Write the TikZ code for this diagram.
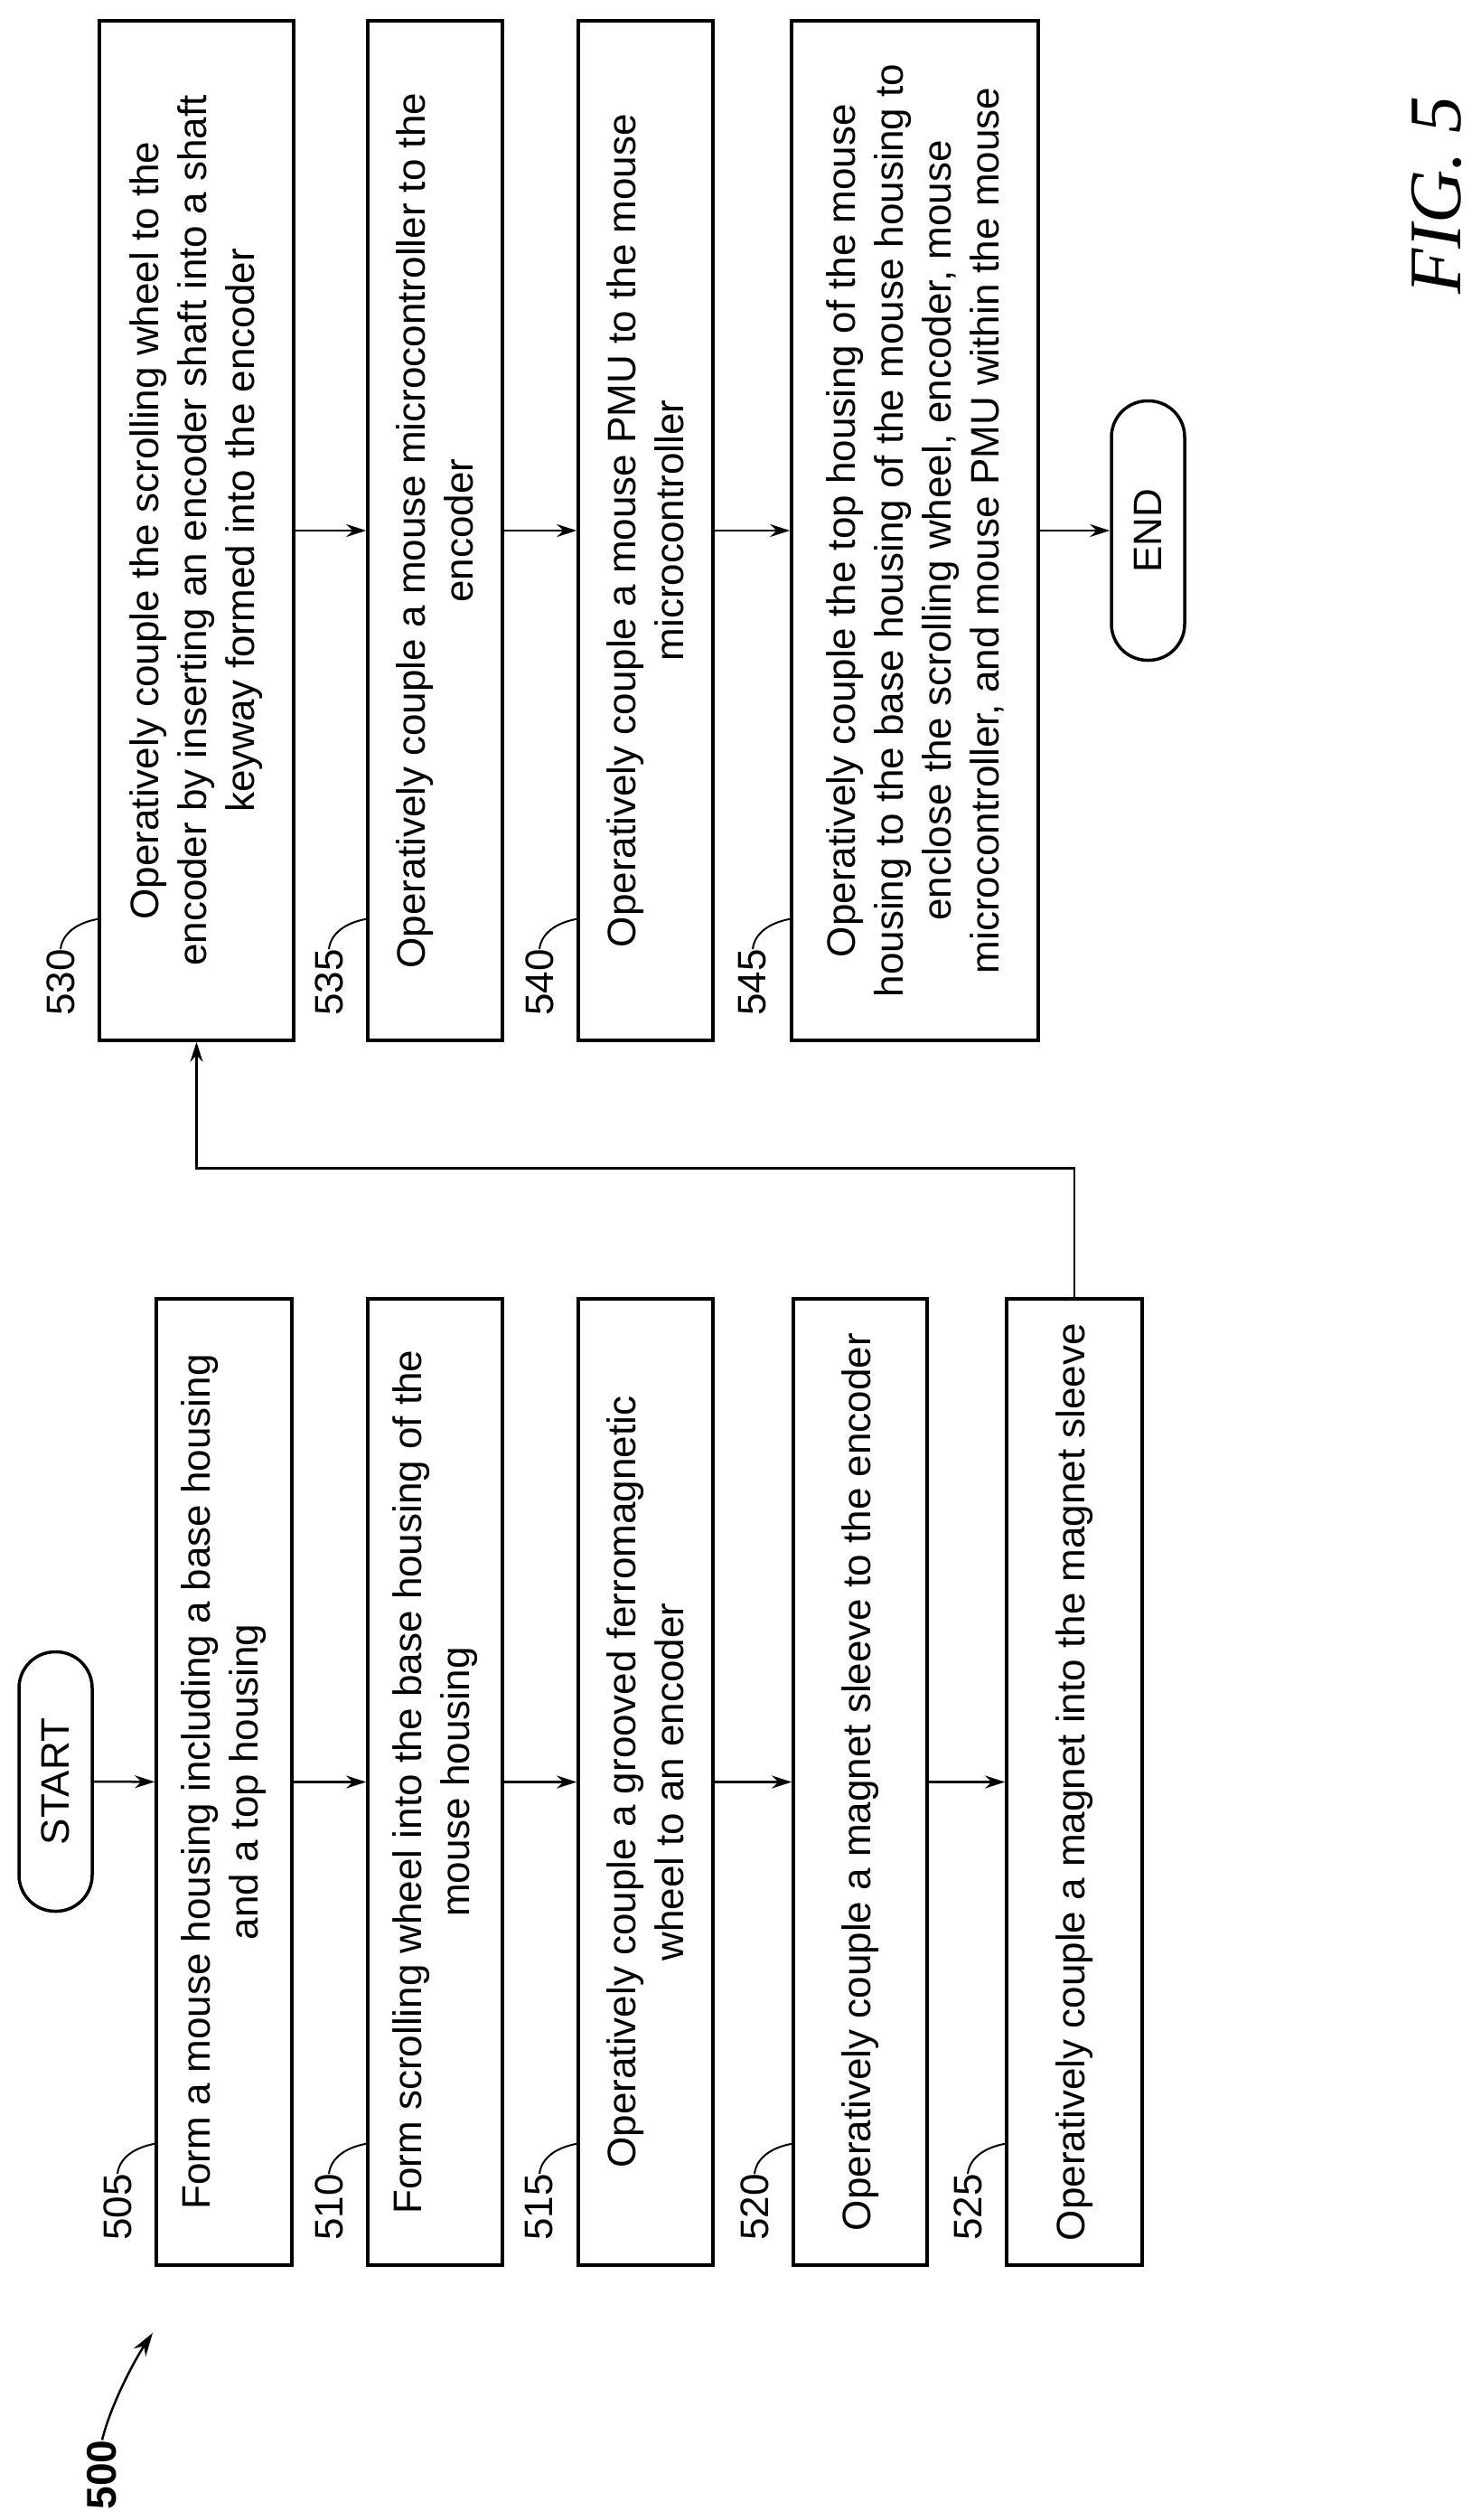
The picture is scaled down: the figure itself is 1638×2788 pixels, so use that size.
\documentclass[tikz,border=0pt]{standalone}
\usepackage{fontspec}
\setmainfont{Liberation Sans}
\newfontfamily\figfont{Liberation Serif}
\usetikzlibrary{arrows.meta,calc}
\begin{document}
\begin{tikzpicture}[x=1pt,y=-1pt,
  stepbox/.style={draw,line width=3.5pt,rotate=90,align=center,inner sep=0pt,
     font=\fontsize{44}{53}\selectfont},
  termbox/.style={draw,line width=3.5pt,rotate=90,rounded corners=40pt,
     minimum width=287pt,minimum height=81pt,font=\fontsize{44}{53}\selectfont},
  reflabel/.style={rotate=90,inner sep=0pt,font=\fontsize{44}{53}\selectfont},
  arr/.style={line width=2.5pt,-{Stealth[length=22pt,width=14pt]}},
  lead/.style={line width=2pt}]
\fill[white] (0,0) rectangle (1638,2788);
\useasboundingbox (0,0) rectangle (1638,2788);
% left column
\node[termbox] (start) at (61.5,1971) {START};
\node[stepbox,minimum width=1069pt,minimum height=150pt] (n505) at (248,1971.5) {Form a mouse housing including a base housing\\and a top housing};
\node[stepbox,minimum width=1069pt,minimum height=149pt] (n510) at (481.5,1971.5) {Form scrolling wheel into the base housing of the\\mouse housing};
\node[stepbox,minimum width=1069pt,minimum height=149pt] (n515) at (714.5,1971.5) {Operatively couple a grooved ferromagnetic\\wheel to an encoder};
\node[stepbox,minimum width=1069pt,minimum height=148pt] (n520) at (952,1971.5) {Operatively couple a magnet sleeve to the encoder};
\node[stepbox,minimum width=1069pt,minimum height=150pt] (n525) at (1189,1971.5) {Operatively couple a magnet into the magnet sleeve};
% right column
\node[stepbox,minimum width=1128pt,minimum height=215pt] (n530) at (217.5,587) {Operatively couple the scrolling wheel to the\\encoder by inserting an encoder shaft into a shaft\\keyway formed into the encoder};
\node[stepbox,minimum width=1128pt,minimum height=149pt] (n535) at (481.5,587) {Operatively couple a mouse microcontroller to the\\encoder};
\node[stepbox,minimum width=1128pt,minimum height=149pt] (n540) at (714.5,587) {Operatively couple a mouse PMU to the mouse\\microcontroller};
\node[stepbox,minimum width=1128pt,minimum height=273pt] (n545) at (1012.5,587) {Operatively couple the top housing of the mouse\\housing to the base housing of the mouse housing to\\enclose the scrolling wheel, encoder, mouse\\microcontroller, and mouse PMU within the mouse};
\node[termbox] (end) at (1270.5,587) {END};
% connectors
\draw[arr] (start) -- (n505);
\draw[arr] (n505) -- (n510);
\draw[arr] (n510) -- (n515);
\draw[arr] (n515) -- (n520);
\draw[arr] (n520) -- (n525);
\draw[arr] (n525.east) -- ++(0,-143) -| (n530.west);
\draw[arr] (n530) -- (n535);
\draw[arr] (n535) -- (n540);
\draw[arr] (n540) -- (n545);
\draw[arr] (n545) -- (end);
% reference labels
\foreach \n/\xx/\yy in {505/130/2442,510/364/2442,515/597/2442,520/835/2442,525/1071/2442,
                        530/67/1087,535/364/1087,540/597/1087,545/833/1087}{
  \node[reflabel] (l\n) at (\xx,\yy) {\n};
  \coordinate (c\n) at ($(n\n.north west)+(0,-136)$);
  \draw[lead] (l\n.east) .. controls +(2,-18) and +(-22,4) .. (c\n);
}
% figure label
\node[reflabel,font=\fontsize{46}{50}\selectfont\bfseries] (l500) at (113,2738) {500};
\coordinate (a500) at (169,2581);
\draw[line width=2.5pt,-{Stealth[length=26pt,width=16pt]}] (l500.east) .. controls +(10,-40) and +(-20,30) .. (a500);
\node[rotate=90,inner sep=0pt,font=\figfont\itshape\fontsize{82}{90}\selectfont] (fig) at (1590,216) {FIG.~5};
\end{tikzpicture}
\end{document}
